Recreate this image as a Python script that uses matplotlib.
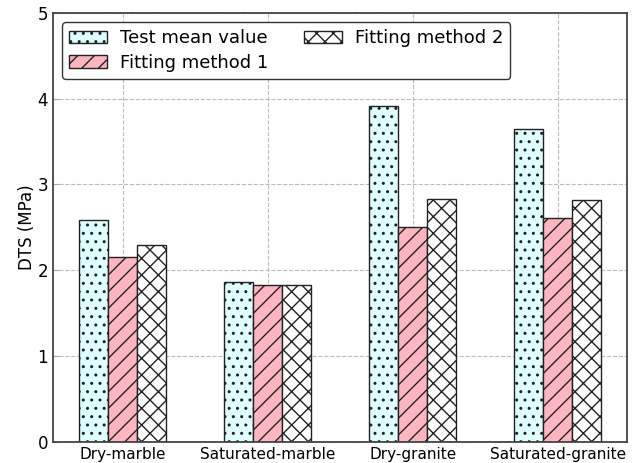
import matplotlib
matplotlib.use("Agg")
import matplotlib.pyplot as plt
import numpy as np

categories = ["Dry-marble", "Saturated-marble", "Dry-granite", "Saturated-granite"]
test_mean = [2.59, 1.86, 3.92, 3.65]
fitting1 = [2.15, 1.83, 2.50, 2.61]
fitting2 = [2.29, 1.83, 2.83, 2.82]
series_labels = ["Test mean value", "Fitting method 1", "Fitting method 2"]

plt.rcParams['hatch.linewidth'] = 1.0
fig, ax = plt.subplots(figsize=(6.37, 4.63), dpi=100)
fig.subplots_adjust(left=0.083, right=0.985, top=0.972, bottom=0.046)

x = np.arange(len(categories))
w = 0.2
ax.bar(x - w, test_mean, w, color="#e0ffff", edgecolor="#222222", hatch="..", linewidth=1.0, label=series_labels[0])
ax.bar(x, fitting1, w, color="#ffb6c1", edgecolor="#222222", hatch="//", linewidth=1.0, label=series_labels[1])
ax.bar(x + w, fitting2, w, color="white", edgecolor="#222222", hatch="xx", linewidth=1.0, label=series_labels[2])

ax.set_xlim(-0.48, 3.48)
ax.set_ylim(0, 5)
ax.set_xticks(x)
ax.set_xticklabels(categories, fontsize=11)
ax.set_yticks([0, 1, 2, 3, 4, 5])
ax.tick_params(axis='y', labelsize=12)
ax.tick_params(direction='in', color='#aaaaaa', length=4)
ax.set_ylabel("DTS (MPa)", fontsize=12, labelpad=1)
ax.grid(True, linestyle='--', color='#bbbbbb', linewidth=0.8)
ax.set_axisbelow(True)
for s in ax.spines.values():
    s.set_color('#444444')
    s.set_linewidth(1.3)

leg = ax.legend(loc='upper left', ncol=2, fontsize=13, frameon=True, fancybox=True,
                edgecolor='#333333', framealpha=1, handlelength=2.1, handletextpad=0.7,
                columnspacing=2.0, borderaxespad=0.5, labelspacing=0.35)
leg.get_frame().set_linewidth(1.0)

fig.savefig("out.png", dpi=100)
